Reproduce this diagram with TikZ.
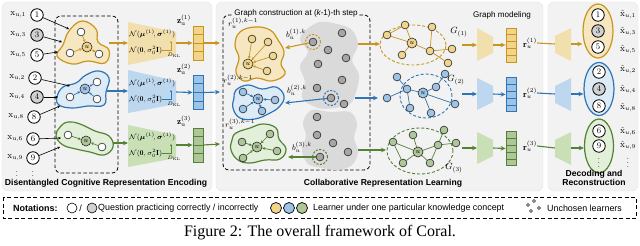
\documentclass[tikz,border=0pt]{standalone}
\usepackage{fontspec}
\usepackage{amsmath,amssymb,bm}
\usetikzlibrary{arrows.meta,calc,shapes.geometric}
\newfontfamily\arialf{Liberation Sans}
\newfontfamily\timesf{Liberation Serif}
\definecolor{yelD}{HTML}{C8961E}
\definecolor{yelL}{HTML}{F6E7C1}
\definecolor{yelN}{HTML}{F2D58C}
\definecolor{yelT}{HTML}{F2DFAE}
\definecolor{bluD}{HTML}{2E75B6}
\definecolor{bluL}{HTML}{DDEBF7}
\definecolor{bluN}{HTML}{9DC3E6}
\definecolor{bluT}{HTML}{BDD7EE}
\definecolor{grnD}{HTML}{548235}
\definecolor{grnL}{HTML}{E2EFD9}
\definecolor{grnN}{HTML}{AFC59A}
\definecolor{grnT}{HTML}{C9E0B6}
\definecolor{panF}{HTML}{F2F2F2}
\definecolor{panB}{HTML}{E3E3E3}
\definecolor{gryB}{HTML}{DADADA}
\definecolor{gryN}{HTML}{A6A6A6}
\newcommand{\myvec}[6]{%
  \node[draw=#4, fill=#3, line width=0.8pt, minimum width=10pt, minimum height=34pt, inner sep=0pt] (#6) at (#1,#2) {};
  \foreach \i in {1,...,#5} {\draw[#4, line width=0.6pt] ($(#6.north west)!{\i/(#5+1)}!(#6.south west)$) -- ($(#6.north east)!{\i/(#5+1)}!(#6.south east)$);}
}
\begin{document}
\begin{tikzpicture}[x=1pt,y=-1pt,
  qc/.style={circle, draw=black, line width=0.8pt, minimum size=12.5pt, inner sep=0pt, font=\fontsize{8.5}{8.5}\selectfont, fill=white},
  qg/.style={qc, fill=black!18},
  sn/.style={circle, draw=black!85, line width=0.6pt, minimum size=7.8pt, inner sep=0pt},
  un/.style={sn, minimum size=10pt, font=\fontsize{7.5}{7.5}\selectfont},
  xl/.style={font=\fontsize{9}{9}\selectfont, inner sep=0pt},
  ml/.style={font=\fontsize{8.5}{8.5}\selectfont, inner sep=0pt},
  tl/.style={font=\fontsize{7.4}{7.6}\selectfont, inner sep=0pt},
  ttl/.style={font=\arialf\bfseries\fontsize{8.6}{9.6}\selectfont, inner sep=0pt, align=center},
  sub/.style={font=\arialf\fontsize{8.1}{9}\selectfont, inner sep=1pt},
  ntx/.style={font=\arialf\fontsize{8.9}{10}\selectfont, anchor=west, inner sep=0pt},
  tarr/.style={line width=0.6pt, -{Stealth[length=2.8pt,width=2.6pt]}},
  iarr/.style={line width=0.7pt, -{Stealth[length=2.8pt,width=2.8pt]}},
  flow/.style={line width=1.1pt, -{Stealth[length=5pt,width=4.5pt]}},
  blob/.style={line width=1.2pt},
  dbox/.style={dashed, dash pattern=on 3.5pt off 2.2pt, line width=0.8pt, rounded corners=6pt},
  gedge/.style={line width=0.7pt}
]
\useasboundingbox (0,0) rectangle (640,246);

% panels
\filldraw[fill=panF, draw=panB, rounded corners=6pt] (2,2) rectangle (212,191);
\filldraw[fill=panF, draw=panB, rounded corners=6pt] (216,2) rectangle (543,191);
\filldraw[fill=panF, draw=panB, rounded corners=6pt] (548,2) rectangle (638,191);

% ===== Panel 1 =====
\draw[dbox] (55,16) rectangle (118,173);
\node[qc] (q1) at (37,15) {1};
\node[qg] (q3) at (37,35) {3};
\node[qc] (q5) at (37,55) {5};
\node[qc] (q2) at (35,78) {2};
\node[qg] (q4) at (37,97) {4};
\node[qc] (q8) at (34,117) {8};
\node[qc] (q6) at (33,139) {6};
\node[qc] (q9) at (33,158) {9};
\node[xl, anchor=east] (l1) at (26,15) {$\mathrm{x}_{\mathrm{u},1}$};
\node[xl, anchor=east] (l3) at (26,35) {$\mathrm{x}_{\mathrm{u},3}$};
\node[xl, anchor=east] (l5) at (26,55) {$\mathrm{x}_{\mathrm{u},5}$};
\node[xl, anchor=east] (l2) at (25,78) {$\mathrm{x}_{\mathrm{u},2}$};
\node[xl, anchor=east] (l4) at (25,97) {$\mathrm{x}_{\mathrm{u},4}$};
\node[xl, anchor=east] (l8) at (24,117) {$\mathrm{x}_{\mathrm{u},8}$};
\node[xl, anchor=east] (l6) at (23,139) {$\mathrm{x}_{\mathrm{u},6}$};
\node[xl, anchor=east] (l9) at (23,158) {$\mathrm{x}_{\mathrm{u},9}$};
\node[xl] (d1) at (17,173) {$\vdots$};
\node[xl] (d2) at (33,173) {$\vdots$};

% blobs
\filldraw[blob, fill=yelL, draw=yelD] plot[smooth cycle, tension=0.7] coordinates {(82,21) (96,29) (98,42) (109,50) (105,63) (88,61) (72,64) (57,56) (63,45) (69,31)};
\filldraw[blob, fill=bluL, draw=bluD] plot[smooth cycle, tension=0.7] coordinates {(57,97) (63,87) (76,83) (86,75) (99,71) (109,78) (106,92) (104,105) (88,106) (72,108) (59,105)};
\filldraw[blob, fill=grnL, draw=grnD] plot[smooth cycle, tension=0.7] coordinates {(60,127) (68,122) (80,124) (95,131) (109,136) (113,147) (104,155) (90,152) (76,149) (63,145) (56,136)};

\coordinate (e1) at (69,29); \coordinate (e3) at (62,42); \coordinate (e5) at (58,52);
\coordinate (e2) at (70,86); \coordinate (e4) at (58,97); \coordinate (e8) at (60,106);
\coordinate (e6) at (61,138); \coordinate (e9) at (60,147);
\draw[tarr] (q1) -- (e1); \draw[tarr] (q3) -- (e3); \draw[tarr] (q5) -- (e5);
\draw[tarr] (q2) -- (e2); \draw[tarr] (q4) -- (e4); \draw[tarr] (q8) -- (e8);
\draw[tarr] (q6) -- (e6); \draw[tarr] (q9) -- (e9);

\node[sn, fill=white] (a1) at (81,32) {};
\node[sn, fill=white] (a2) at (70,53) {};
\node[sn, fill=white] (a3) at (99,54) {};
\node[un, fill=yelN] (a0) at (87,47) {$u$};
\draw[iarr, yelD] (a1) -- (a0); \draw[iarr, yelD] (a2) -- (a0); \draw[iarr, yelD] (a0) -- (a3);

\node[sn, fill=white] (b1) at (97,82) {};
\node[sn, fill=white] (b2) at (70,97) {};
\node[sn, fill=white] (b3) at (97,99) {};
\node[un, fill=bluN] (b0) at (85,89) {$u$};
\draw[iarr, bluD] (b1) -- (b0); \draw[iarr, bluD] (b2) -- (b0); \draw[iarr, bluD] (b3) -- (b0);

\node[sn, fill=white] (c1) at (68,135) {};
\node[sn, fill=white] (c2) at (102,147) {};
\node[un, fill=grnN] (c0) at (86,141) {$u$};
\draw[iarr, grnD] (c1) -- (c0); \draw[iarr, grnD] (c2) -- (c0);

% trapezoids
\fill[yelT] (128,22) -- (176,32) -- (176,55) -- (128,65) -- cycle;
\fill[bluT] (128,70) -- (176,81) -- (176,104) -- (128,113) -- cycle;
\fill[grnT] (128,125) -- (176,135) -- (176,158) -- (128,167) -- cycle;
\coordinate (s1) at (109,43); \coordinate (t1) at (128,43); \coordinate (u1) at (176,43);
\coordinate (s2) at (107,91); \coordinate (t2) at (128,91); \coordinate (u2) at (176,92);
\coordinate (s3) at (113,143); \coordinate (t3) at (128,143); \coordinate (u3) at (176,145);
\draw[flow, yelD] (s1) -- (t1);
\draw[flow, bluD] (s2) -- (t2);
\draw[flow, grnD] (s3) -- (t3);

\foreach \c/\n/\r in {34/1/yelD, 83/2/bluD, 137/3/grnD} {
  \node[tl, anchor=west] (na\n) at (129,\c) {$\mathcal{N}(\bm{\mu}^{(1)}\!,\bm{\sigma}^{(1)})$};
  \node[tl, anchor=west] (nb\n) at (129,\c+16) {$\mathcal{N}(\mathbf{0},\sigma_0^2\mathbf{I})$};
  \coordinate (hk\n) at (171,\c+16);
  \draw[\r, line width=0.5pt, -{Stealth[length=2pt,width=2pt]}] (nb\n.east) -- (hk\n) -- (171,\c+7);
  \node[font=\fontsize{5.5}{6}\selectfont, inner sep=0pt] (kl\n) at (174,\c+21) {$D_{\mathrm{KL}}$};
}

\myvec{198}{43}{yelN}{yelD}{3}{zv1}
\myvec{198}{92.5}{bluN}{bluD}{3}{zv2}
\myvec{198}{145}{grnN}{grnD}{3}{zv3}
\node[xl] (zl1) at (184,20) {$\mathbf{z}_{\mathrm{u}}^{(1)}$};
\node[xl] (zl2) at (184,69) {$\mathbf{z}_{\mathrm{u}}^{(2)}$};
\node[xl] (zl3) at (184,121) {$\mathbf{z}_{\mathrm{u}}^{(3)}$};
\draw[flow, yelD] (u1) -- (zv1.west);
\draw[flow, bluD] (u2) -- (zv2.west);
\draw[flow, grnD] (u3) -- (zv3.west);

\node[ttl] (p1t) at (106,183) {Disentangled Cognitive Representation Encoding};

% ===== Panel 2 =====
\coordinate (p2a) at (220,43); \coordinate (p2b) at (220,92); \coordinate (p2c) at (220,144);
\draw[flow, yelD] (zv1.east) -- (p2a);
\draw[flow, bluD] (zv2.east) -- (p2b);
\draw[flow, grnD] (zv3.east) -- (p2c);

\draw[dbox] (223,15) rectangle (370,170);
\node[sub, fill=panF] (gct) at (296,13) {Graph construction at ({\itshape k}-1)-th step};

% gray blobs
\fill[gryB] plot[smooth cycle, tension=0.6] coordinates {(306,30) (320,22) (337,24) (352,30) (358,45) (352,60) (359,75) (356,92) (350,104) (335,108) (318,108) (302,98) (305,82) (300,66) (308,52) (300,40)};
\fill[gryB] plot[smooth cycle, tension=0.6] coordinates {(312,110) (330,112) (350,112) (357,124) (354,138) (358,152) (352,165) (338,170) (322,168) (308,164) (302,150) (306,136) (303,122)};
\foreach \p [count=\k] in {(342,33),(328,50),(346,58),(318,64),(342,80),(317,88),(344,104),(317,117),(317,135),(333,143),(348,152)} {
  \node[sn, fill=gryN] (gy\k) at \p {};
}
\node[sn, fill=gryN] (bc1) at (313,42) {};
\node[sn, fill=gryN] (bc2) at (331,98) {};
\node[sn, fill=gryN] (bc3) at (320,157) {};
\draw[dashed, dash pattern=on 2pt off 1.5pt, yelD, line width=1pt] (bc1) circle (7.5pt);
\draw[dashed, dash pattern=on 2pt off 1.5pt, bluD, line width=1pt] (bc2) circle (7.5pt);
\draw[dashed, dash pattern=on 2pt off 1.5pt, grnD, line width=1pt] (bc3) circle (7.5pt);
\node[ml] (bl1) at (296,34) {$b_u^{(1),k}$};
\node[ml] (bl2) at (297,90) {$b_u^{(2),k}$};
\node[ml] (bl3) at (302,147) {$b_u^{(3),k}$};

% r blobs
\filldraw[blob, fill=yelL, draw=yelD] plot[smooth cycle, tension=0.7] coordinates {(240,32) (255,27) (270,30) (278,40) (284,52) (281,64) (285,74) (272,81) (257,78) (244,81) (236,72) (239,58) (235,45)};
\filldraw[blob, fill=bluL, draw=bluD] plot[smooth cycle, tension=0.7] coordinates {(236,90) (248,85) (262,89) (276,87) (284,96) (280,106) (270,113) (255,119) (240,118) (233,108) (234,98)};
\filldraw[blob, fill=grnL, draw=grnD] plot[smooth cycle, tension=0.7] coordinates {(236,133) (250,128) (263,124) (276,128) (279,139) (286,149) (280,159) (265,160) (250,163) (238,160) (231,150) (232,140)};
\node[ml] (rl1) at (243,23) {$r_u^{(1),k-1}$};
\node[ml] (rl2) at (238,80) {$r_u^{(2),k-1}$};
\node[ml] (rl3) at (240,124) {$r_u^{(3),k-1}$};

\node[sn, fill=yelN] (ra1) at (252,39) {};
\node[sn, fill=yelN] (ra2) at (268,42) {};
\node[sn, fill=yelN] (ra3) at (273,56) {};
\node[sn, fill=yelN] (ra4) at (267,71) {};
\node[un, fill=yelN] (ra0) at (248,64) {$u$};
\foreach \k in {1,2,3,4} {\draw[iarr, yelD] (ra\k) -- (ra0);}

\node[sn, fill=bluN] (rb1) at (243,92) {};
\node[sn, fill=bluN] (rb2) at (275,100) {};
\node[sn, fill=bluN] (rb3) at (243,109) {};
\node[sn, fill=bluN] (rb4) at (262,111) {};
\node[un, fill=bluN] (rb0) at (258,99) {$u$};
\foreach \k in {1,2,3,4} {\draw[iarr, bluD] (rb\k) -- (rb0);}

\node[sn, fill=grnN] (rc1) at (270,134) {};
\node[sn, fill=grnN] (rc2) at (242,142) {};
\node[sn, fill=grnN] (rc3) at (277,151) {};
\node[sn, fill=grnN] (rc4) at (243,158) {};
\node[un, fill=grnN] (rc0) at (257,147) {$u$};
\foreach \k in {1,2,3,4} {\draw[iarr, grnD] (rc\k) -- (rc0);}

\coordinate (rb1e) at (285,48); \coordinate (rb2e) at (285,103); \coordinate (rb3e) at (288,157);
\draw[flow, yelD] (bc1) -- (rb1e);
\draw[flow, bluD] (bc2) -- (rb2e);
\draw[flow, grnD] (bc3) -- (rb3e);

% arrows to graphs
\coordinate (ga) at (358,44); \coordinate (gA) at (380,44);
\coordinate (gb) at (355,98); \coordinate (gB) at (378,98);
\coordinate (gc) at (358,150); \coordinate (gC) at (386,150);
\draw[flow, yelD] (ga) -- (gA);
\draw[flow, bluD] (gb) -- (gB);
\draw[flow, grnD] (gc) -- (gC);

% G1
\draw[dashed, dash pattern=on 3pt off 2pt, yelD, line width=0.9pt] (413,45) ellipse [x radius=33pt, y radius=20pt];
\node[sn, fill=yelN] (h1a) at (387,35) {};
\node[sn, fill=yelN] (h1b) at (405,25) {};
\node[sn, fill=yelN] (h1c) at (432,27) {};
\node[un, fill=yelN] (h1u) at (412,43) {$u$};
\node[sn, fill=yelN] (h1d) at (402,55) {};
\node[sn, fill=yelN] (h1e) at (430,51) {};
\node[sn, fill=yelN] (h1f) at (448,63) {};
\node[sn, fill=yelN] (h1g) at (452,49) {};
\foreach \a/\b in {h1a/h1b,h1a/h1u,h1b/h1u,h1u/h1d,h1u/h1e,h1c/h1e,h1e/h1f,h1e/h1g} {\draw[gedge, yelD] (\a) -- (\b);}
\node[xl] (G1) at (459,32) {$G_{(1)}$};

% G2
\draw[dashed, dash pattern=on 3pt off 2pt, bluD, line width=0.9pt] (426,96) ellipse [x radius=26pt, y radius=22pt];
\node[sn, fill=bluN] (h2a) at (387,98) {};
\node[sn, fill=bluN] (h2b) at (397,77) {};
\node[sn, fill=bluN] (h2c) at (407,89) {};
\node[un, fill=bluN] (h2u) at (423,93) {$u$};
\node[sn, fill=bluN] (h2d) at (436,87) {};
\node[sn, fill=bluN] (h2e) at (445,74) {};
\node[sn, fill=bluN] (h2f) at (431,113) {};
\node[sn, fill=bluN] (h2g) at (455,104) {};
\node[sn, fill=bluN] (h2h) at (410,108) {};
\foreach \a/\b in {h2a/h2c,h2b/h2c,h2c/h2u,h2c/h2h,h2u/h2d,h2d/h2e,h2u/h2f,h2u/h2g} {\draw[gedge, bluD] (\a) -- (\b);}
\node[xl] (G2) at (456,80) {$G_{(2)}$};

% G3
\draw[dashed, dash pattern=on 3pt off 2pt, grnD, line width=0.9pt] (420,151) ellipse [x radius=33pt, y radius=23pt];
\node[sn, fill=grnN] (h3a) at (393,142) {};
\node[sn, fill=grnN] (h3b) at (413,135) {};
\node[un, fill=grnN] (h3u) at (418,152) {$u$};
\node[sn, fill=grnN] (h3c) at (403,163) {};
\node[sn, fill=grnN] (h3d) at (430,163) {};
\node[sn, fill=grnN] (h3e) at (438,145) {};
\node[sn, fill=grnN] (h3f) at (444,130) {};
\node[sn, fill=grnN] (h3g) at (456,143) {};
\foreach \a/\b in {h3a/h3u,h3b/h3u,h3u/h3c,h3u/h3d,h3a/h3c,h3u/h3e,h3e/h3f,h3e/h3g,h3d/h3e} {\draw[gedge, grnD] (\a) -- (\b);}
\node[xl] (G3) at (454,168) {$G_{(3)}$};

% encoders
\node[sub] (gm) at (502,15) {Graph modeling};
\fill[yelT] (477,28) -- (493,37) -- (493,53) -- (477,61) -- cycle;
\fill[bluT] (477,78) -- (493,86) -- (493,102) -- (477,110) -- cycle;
\fill[grnT] (477,132) -- (493,140) -- (493,156) -- (477,164) -- cycle;
\coordinate (en1w) at (477,45); \coordinate (en1e) at (493,45); \coordinate (gr1) at (462,45);
\coordinate (en2w) at (477,94); \coordinate (en2e) at (493,94); \coordinate (gr2) at (462,94);
\coordinate (en3w) at (477,148); \coordinate (en3e) at (493,148); \coordinate (gr3) at (462,148);
\draw[flow, yelD] (gr1) -- (en1w);
\draw[flow, bluD] (gr2) -- (en2w);
\draw[flow, grnD] (gr3) -- (en3w);
\myvec{511}{45}{yelN}{yelD}{4}{rv1}
\myvec{511}{94.5}{bluN}{bluD}{4}{rv2}
\myvec{511}{148.5}{grnN}{grnD}{4}{rv3}
\draw[flow, yelD] (en1e) -- (rv1.west);
\draw[flow, bluD] (en2e) -- (rv2.west);
\draw[flow, grnD] (en3e) -- (rv3.west);
\node[xl] (rr1) at (530,43) {$\mathbf{r}_u^{(1)}$};
\node[xl] (rr2) at (530,93) {$\mathbf{r}_u^{(2)}$};
\node[xl] (rr3) at (530,146) {$\mathbf{r}_u^{(3)}$};

\node[ttl] (p2t) at (383,183) {Collaborative Representation Learning};

% ===== Panel 3 =====
\fill[yelT] (555,36) -- (571,28) -- (571,61) -- (555,53) -- cycle;
\fill[bluT] (555,86) -- (571,78) -- (571,111) -- (555,103) -- cycle;
\fill[grnT] (555,140) -- (571,132) -- (571,165) -- (555,157) -- cycle;
\coordinate (de1w) at (555,44); \coordinate (de1e) at (571,44);
\coordinate (de2w) at (555,94); \coordinate (de2e) at (571,94);
\coordinate (de3w) at (555,148); \coordinate (de3e) at (571,148);
\draw[yelD, line width=1.1pt] (rr1.east) -- (de1w);
\draw[bluD, line width=1.1pt] (rr2.east) -- (de2w);
\draw[grnD, line width=1.1pt] (rr3.east) -- (de3w);

\node[draw=yelD, fill=yelL, line width=1.2pt, ellipse, minimum width=30pt, minimum height=54pt, inner sep=0pt] (o1) at (598,31) {};
\node[draw=bluD, fill=bluL, line width=1.2pt, ellipse, minimum width=30pt, minimum height=53pt, inner sep=0pt] (o2) at (599,89) {};
\node[draw=grnD, fill=grnL, line width=1.2pt, ellipse, minimum width=29pt, minimum height=54pt, inner sep=0pt] (o3) at (599,146) {};
\draw[flow, yelD] (de1e) -- (o1.west |- de1e);
\draw[flow, bluD] (de2e) -- (o2.west |- de2e);
\draw[flow, grnD] (de3e) -- (o3.west |- de3e);

\node[qc] (p1) at (598,15) {1};
\node[qg] (p3) at (598,31) {3};
\node[qc] (p5) at (598,47) {5};
\node[qc] (p2) at (599,72) {2};
\node[qg] (p4) at (599,89) {4};
\node[qc] (p8) at (599,106) {8};
\node[qc] (p6) at (599,131) {6};
\node[qc] (p9) at (599,146) {9};
\node[xl] (pd) at (599,160) {$\vdots$};
\node[xl] (h1) at (628,14) {$\hat{\mathrm{x}}_{u,1}$};
\node[xl] (h3) at (628,31) {$\hat{\mathrm{x}}_{u,3}$};
\node[xl] (h5) at (628,49) {$\hat{\mathrm{x}}_{u,5}$};
\node[xl] (h2) at (628,69) {$\hat{\mathrm{x}}_{u,2}$};
\node[xl] (h4) at (628,89) {$\hat{\mathrm{x}}_{u,4}$};
\node[xl] (h8) at (628,107) {$\hat{\mathrm{x}}_{u,8}$};
\node[xl] (h6) at (628,131) {$\hat{\mathrm{x}}_{u,6}$};
\node[xl] (h9) at (628,145) {$\hat{\mathrm{x}}_{u,9}$};
\node[xl] (hd) at (628,160) {$\vdots$};
\node[ttl] (p3t) at (594,178) {Decoding and\\Reconstruction};

% ===== Notations =====
\draw[dashed, dash pattern=on 4pt off 2.5pt, line width=0.8pt] (3,197) rectangle (636,218);
\node[font=\arialf\bfseries\fontsize{9}{10}\selectfont, anchor=west, inner sep=0pt] (nt) at (13,208) {Notations:};
\node[circle, draw, line width=0.6pt, minimum size=10pt, inner sep=0pt, fill=white] (nw) at (72,208) {};
\node[font=\arialf\fontsize{9}{10}\selectfont, inner sep=0pt] (ns) at (80.5,208) {/};
\node[circle, draw, line width=0.6pt, minimum size=10pt, inner sep=0pt, fill=black!18] (ng) at (92,208) {};
\node[ntx] (nq) at (98,208) {Question practicing correctly / incorrectly};
\node[circle, draw, line width=0.7pt, minimum size=11pt, inner sep=0pt, fill=yelN] (ny) at (276,208) {};
\node[circle, draw, line width=0.7pt, minimum size=11pt, inner sep=0pt, fill=bluN] (nb) at (289,208) {};
\node[circle, draw, line width=0.7pt, minimum size=11pt, inner sep=0pt, fill=grnN] (nn) at (302,208) {};
\node[ntx] (nl) at (313,208) {Learner under one particular knowledge concept};
\foreach \p [count=\k] in {(528,205),(534,201),(531,211),(539,208)} {
  \node[circle, draw=black!80, fill=gryN, line width=0.4pt, minimum size=3.4pt, inner sep=0pt] (uc\k) at \p {};
}
\node[ntx] (nu) at (547,208) {Unchosen learners};

% caption
\node[font=\timesf\fontsize{16}{17}\selectfont, inner sep=0pt] (cap) at (320,233) {Figure 2: The overall framework of Coral.};
\end{tikzpicture}
\end{document}
